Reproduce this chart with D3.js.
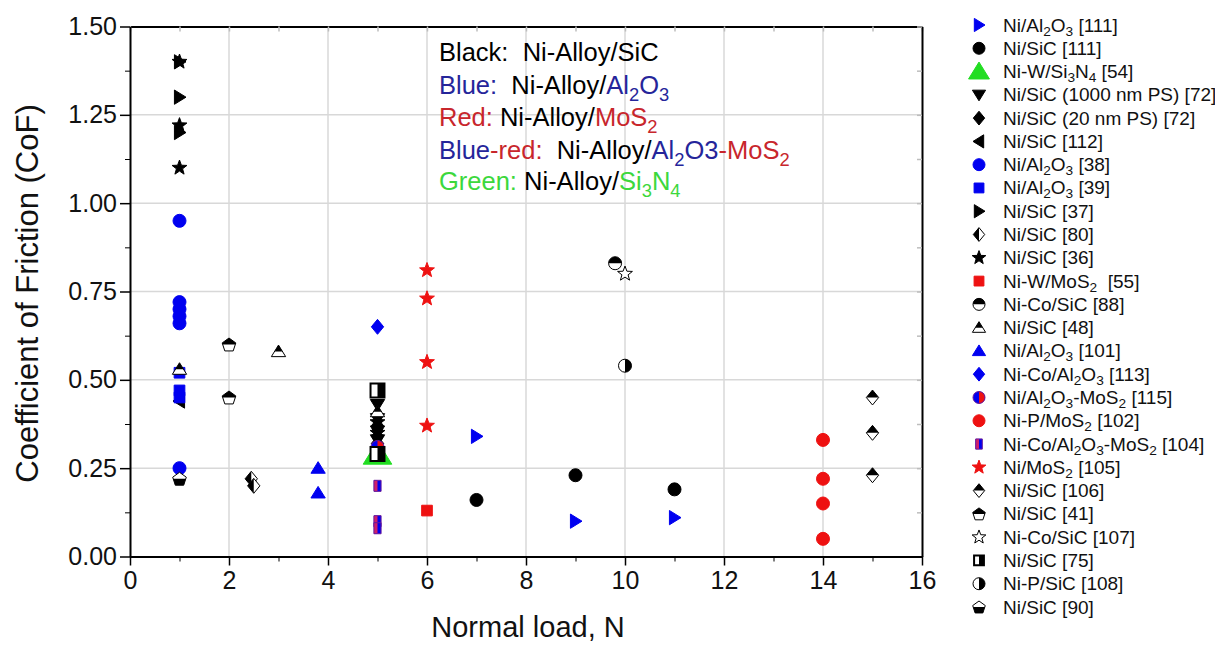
<!DOCTYPE html>
<html>
<head>
<meta charset="utf-8">
<script src="https://cdn.jsdelivr.net/npm/d3@7"></script>
<style>
  body { margin: 0; background: #fff; }
  text { font-family: "Liberation Sans", Arial, sans-serif; }
</style>
</head>
<body>
<script>
// Chart data: normal load (N) vs coefficient of friction, one array per source
var niAl2O3_111   = [[7, 0.34], [9, 0.10], [11, 0.11]];
var niSiC_111     = [[7, 0.16], [9, 0.23], [11, 0.19]];
var niWSi3N4_54   = [[5, 0.29]];
var niSiC_72_1000 = [[5, 0.43], [5, 0.39], [5, 0.355], [5, 0.33]];
var niSiC_72_20   = [[5, 0.40], [5, 0.37], [5, 0.34], [5, 0.32]];
var niSiC_112     = [[1, 0.44]];
var niAl2O3_38    = [[1, 0.95], [1, 0.72], [1, 0.70], [1, 0.68], [1, 0.66], [1, 0.25]];
var niAl2O3_39    = [[1, 0.52], [1, 0.47], [1, 0.45]];
var niSiC_37      = [[1, 1.40], [1, 1.30], [1, 1.20]];
var niSiC_80      = [[2.45, 0.22], [2.5, 0.20]];
var niSiC_36      = [[1, 1.40], [1, 1.22], [1, 1.10], [5, 0.38], [5, 0.35]];
var niWMoS2_55    = [[6, 0.13]];
var niCoSiC_88    = [[9.8, 0.83]];
var niSiC_48      = [[1, 0.53], [3, 0.58], [5, 0.41]];
var niAl2O3_101   = [[3.8, 0.25], [3.8, 0.18]];
var niCoAl2O3_113 = [[5, 0.65]];
var niAl2O3MoS2_115 = [[5, 0.31]];
var niPMoS2_102   = [[14, 0.33], [14, 0.22], [14, 0.15], [14, 0.05]];
var niCoAl2O3MoS2_104 = [[5, 0.20], [5, 0.10], [5, 0.08]];
var niMoS2_105    = [[6, 0.81], [6, 0.73], [6, 0.55], [6, 0.37]];
var niSiC_106     = [[15, 0.45], [15, 0.35], [15, 0.23]];
var niSiC_41      = [[2, 0.60], [2, 0.45]];
var niCoSiC_107   = [[10, 0.80]];
var niSiC_75      = [[5, 0.47], [5, 0.29]];
var niPSiC_108    = [[10, 0.54]];
var niSiC_90      = [[1, 0.22]];

// "_x" = subscript x
var seriesNames = [
  "Ni/Al_2O_3 [111]", "Ni/SiC [111]", "Ni-W/Si_3N_4 [54]", "Ni/SiC (1000 nm PS) [72]",
  "Ni/SiC (20 nm PS) [72]", "Ni/SiC [112]", "Ni/Al_2O_3 [38]", "Ni/Al_2O_3 [39]",
  "Ni/SiC [37]", "Ni/SiC [80]", "Ni/SiC [36]", "Ni-W/MoS_2  [55]", "Ni-Co/SiC [88]",
  "Ni/SiC [48]", "Ni/Al_2O_3 [101]", "Ni-Co/Al_2O_3 [113]", "Ni/Al_2O_3-MoS_2 [115]",
  "Ni-P/MoS_2 [102]", "Ni-Co/Al_2O_3-MoS_2 [104]", "Ni/MoS_2 [105]", "Ni/SiC [106]",
  "Ni/SiC [41]", "Ni-Co/SiC [107]", "Ni/SiC [75]", "Ni-P/SiC [108]", "Ni/SiC [90]"
];
var seriesData = [
  niAl2O3_111, niSiC_111, niWSi3N4_54, niSiC_72_1000, niSiC_72_20, niSiC_112,
  niAl2O3_38, niAl2O3_39, niSiC_37, niSiC_80, niSiC_36, niWMoS2_55, niCoSiC_88,
  niSiC_48, niAl2O3_101, niCoAl2O3_113, niAl2O3MoS2_115, niPMoS2_102,
  niCoAl2O3MoS2_104, niMoS2_105, niSiC_106, niSiC_41, niCoSiC_107, niSiC_75,
  niPSiC_108, niSiC_90
];

var xTicks = [0, 2, 4, 6, 8, 10, 12, 14, 16];
var xMinor = [1, 3, 5, 7, 9, 11, 13, 15];
var yTicks = [0, 0.25, 0.5, 0.75, 1.0, 1.25, 1.5];
var yMinor = [0.125, 0.375, 0.625, 0.875, 1.125, 1.375];

// colours
var BLUE = '#0000f0', RED = '#ee1111', GREEN = '#22dd22', BLACK = '#000';
var NAVY = '#25259a', DRED = '#c8262c', LGREEN = '#3cd83c';

// marker look per series (same order as the data)
var markers = [
  {shape: 'triRight', fill: BLUE},
  {shape: 'circle', fill: BLACK},
  {shape: 'triUp', fill: GREEN, size: 26, legendSize: 19},
  {shape: 'triDown', fill: BLACK},
  {shape: 'diamond', fill: BLACK},
  {shape: 'triLeft', fill: BLACK},
  {shape: 'circle', fill: BLUE},
  {shape: 'square', fill: BLUE},
  {shape: 'triRight', fill: BLACK},
  {shape: 'diamond', fill: '#fff', half: 'left', fill2: BLACK, stroke: BLACK},
  {shape: 'star', fill: BLACK},
  {shape: 'square', fill: RED},
  {shape: 'circle', fill: '#fff', half: 'top', fill2: BLACK, stroke: BLACK},
  {shape: 'triUp', fill: '#fff', half: 'top', fill2: BLACK, stroke: BLACK},
  {shape: 'triUp', fill: BLUE},
  {shape: 'diamond', fill: BLUE},
  {shape: 'circle', fill: BLUE, half: 'right', fill2: RED, stroke: '#6a1a9a'},
  {shape: 'circle', fill: RED},
  {shape: 'rect', fill: BLUE, half: 'left', fill2: '#d0206a', stroke: '#6a1a9a'},
  {shape: 'star', fill: RED},
  {shape: 'diamond', fill: '#fff', half: 'top', fill2: BLACK, stroke: BLACK},
  {shape: 'pentagon', fill: '#fff', half: 'top', fill2: BLACK, stroke: BLACK},
  {shape: 'star', fill: '#fff', stroke: BLACK},
  {shape: 'square', fill: '#fff', half: 'right', fill2: BLACK, stroke: BLACK, sw: 2, size: 17},
  {shape: 'circle', fill: '#fff', half: 'right', fill2: BLACK, stroke: BLACK},
  {shape: 'pentagon', fill: '#fff', half: 'bottom', fill2: BLACK, stroke: BLACK}
];

// colored note in the plot
var noteLines = [
  [["Black:  ", BLACK], ["Ni-Alloy/SiC", BLACK]],
  [["Blue:  ", NAVY], ["Ni-Alloy/", BLACK], ["Al_2O_3", NAVY]],
  [["Red: ", DRED], ["Ni-Alloy/", BLACK], ["MoS_2", DRED]],
  [["Blue", NAVY], ["-red:  ", DRED], ["Ni-Alloy/", BLACK], ["Al_2O3", NAVY], ["-MoS_2", DRED]],
  [["Green: ", LGREEN], ["Ni-Alloy/", BLACK], ["Si_3N_4", LGREEN]]
];

var width = 1215, height = 645;

var svg = d3.select('body').append('svg')
    .attr('width', width)
    .attr('height', height);

var x = d3.scaleLinear().domain([0, 16]).range([130, 922]);
var y = d3.scaleLinear().domain([0, 1.5]).range([556.5, 26.5]);

// clip rects for half filled markers
var defs = svg.append('defs');
[['top', -50, -50, 100, 50], ['bottom', -50, 0, 100, 50],
 ['left', -50, -50, 50, 100], ['right', 0, -50, 50, 100]].forEach(function(c) {
  defs.append('clipPath').attr('id', 'half-' + c[0])
    .append('rect').attr('x', c[1]).attr('y', c[2]).attr('width', c[3]).attr('height', c[4]);
});

function poly(pts) {
  return 'M' + pts.map(function(p) { return p[0].toFixed(2) + ',' + p[1].toFixed(2); }).join('L') + 'Z';
}
function rot(pts, a) {
  var c = Math.cos(a), s = Math.sin(a);
  return pts.map(function(p) { return [p[0] * c - p[1] * s, p[0] * s + p[1] * c]; });
}
function shapePath(shape, size) {
  var r = size / 2;
  var tri = [[0, -r * 1.0], [r * 1.1, r * 0.78], [-r * 1.1, r * 0.78]];
  switch (shape) {
    case 'circle': return 'M' + r + ',0A' + r + ',' + r + ' 0 1,1 ' + (-r) + ',0A' + r + ',' + r + ' 0 1,1 ' + r + ',0Z';
    case 'square': var q = r * 0.82; return poly([[-q, -q], [q, -q], [q, q], [-q, q]]);
    case 'rect': return poly([[-r * 0.55, -r * 0.85], [r * 0.55, -r * 0.85], [r * 0.55, r * 0.85], [-r * 0.55, r * 0.85]]);
    case 'triUp': return poly(tri);
    case 'triDown': return poly(rot(tri, Math.PI));
    case 'triRight': return poly(rot(tri, Math.PI / 2));
    case 'triLeft': return poly(rot(tri, -Math.PI / 2));
    case 'diamond': return poly([[0, -r * 1.15], [r * 0.95, 0], [0, r * 1.15], [-r * 0.95, 0]]);
    case 'pentagon':
      return poly(d3.range(5).map(function(i) {
        var a = -Math.PI / 2 + i * 2 * Math.PI / 5;
        return [Math.cos(a) * r * 1.1, Math.sin(a) * r * 1.1 + r * 0.1];
      }));
    case 'star':
      return poly(d3.range(10).map(function(i) {
        var a = -Math.PI / 2 + i * Math.PI / 5, rr = i % 2 ? r * 0.5 : r * 1.2;
        return [Math.cos(a) * rr, Math.sin(a) * rr];
      }));
  }
}

function drawMarker(g, m, size) {
  var d = shapePath(m.shape, size);
  g.append('path').attr('d', d).attr('fill', m.fill);
  if (m.half) {
    g.append('path').attr('d', d).attr('fill', m.fill2)
      .attr('clip-path', 'url(#half-' + m.half + ')');
  }
  g.append('path').attr('d', d).attr('fill', 'none')
    .attr('stroke', m.stroke || m.fill)
    .attr('stroke-width', m.sw || 1)
    .attr('stroke-linejoin', 'miter');
}

// text with subscripts
function richText(t, segments, shift) {
  var down = false;
  segments.forEach(function(seg) {
    seg[0].split(/(_.)/).filter(Boolean).forEach(function(p) {
      var sub = p[0] === '_';
      var ts = t.append('tspan').attr('fill', seg[1]).text(sub ? p.slice(1) : p);
      if (sub) {
        ts.attr('font-size', '72%');
        if (!down) { ts.attr('dy', shift); down = true; }
      } else if (down) {
        ts.attr('dy', -shift); down = false;
      }
    });
  });
}

// grid
var grid = svg.append('g').attr('class', 'grid')
    .attr('stroke', '#d8d8d8').attr('stroke-width', 1.5);
grid.selectAll('.gx').data(xTicks.slice(1, -1)).enter().append('line')
    .attr('x1', function(d) { return x(d); }).attr('x2', function(d) { return x(d); })
    .attr('y1', y(0)).attr('y2', y(1.5));
grid.selectAll('.gy').data(yTicks.slice(1, -1)).enter().append('line')
    .attr('y1', function(d) { return y(d); }).attr('y2', function(d) { return y(d); })
    .attr('x1', x(0)).attr('x2', x(16));

// top and right frame with small inward ticks
function frameAxis(axis, transform) {
  var g = svg.append('g').attr('transform', transform).call(axis);
  g.selectAll('path, line').attr('stroke', '#bdbdbd').attr('stroke-width', 1.5);
  g.selectAll('text').remove();
}
frameAxis(d3.axisTop(x).tickValues(xTicks.concat(xMinor)).tickSizeInner(-5).tickSizeOuter(0).tickFormat(''),
  'translate(0,' + y(1.5) + ')');
frameAxis(d3.axisRight(y).tickValues(yTicks.concat(yMinor)).tickSizeInner(-5).tickSizeOuter(0).tickFormat(''),
  'translate(' + x(16) + ',0)');

// bottom axis
var xAxis = svg.append('g').attr('transform', 'translate(0,' + y(0) + ')')
    .call(d3.axisBottom(x).tickValues(xTicks).tickSizeInner(9).tickSizeOuter(0).tickPadding(6)
      .tickFormat(d3.format('d')));
svg.append('g').attr('transform', 'translate(0,' + y(0) + ')')
    .call(d3.axisBottom(x).tickValues(xMinor).tickSizeInner(5).tickSizeOuter(0).tickFormat(''))
    .select('.domain').remove();

// left axis
var yAxis = svg.append('g').attr('transform', 'translate(' + x(0) + ',0)')
    .call(d3.axisLeft(y).tickValues(yTicks).tickSizeInner(10).tickSizeOuter(0).tickPadding(3)
      .tickFormat(d3.format('.2f')));
svg.append('g').attr('transform', 'translate(' + x(0) + ',0)')
    .call(d3.axisLeft(y).tickValues(yMinor).tickSizeInner(5).tickSizeOuter(0).tickFormat(''))
    .select('.domain').remove();

svg.selectAll('.domain').attr('stroke', '#000').attr('stroke-width', 2);
xAxis.selectAll('.tick line').attr('stroke-width', 1.5);
yAxis.selectAll('.tick line').attr('stroke-width', 1.5);
[xAxis, yAxis].forEach(function(a) {
  a.selectAll('text').attr('font-size', 25).attr('fill', '#111')
    .style('font-family', '"Liberation Sans", Arial, sans-serif');
});

// axis titles
svg.append('text')
    .attr('x', (x(0) + x(16)) / 2 + 2).attr('y', 637)
    .attr('text-anchor', 'middle').attr('font-size', 29).attr('fill', '#111')
    .text('Normal load, N');
svg.append('text')
    .attr('transform', 'translate(38,' + ((y(0) + y(1.5)) / 2 + 2) + ') rotate(-90)')
    .attr('text-anchor', 'middle').attr('font-size', 31).attr('fill', '#111')
    .text('Coefficient of Friction (CoF)');

// note
var noteY = [61, 94, 126, 159, 190];
noteLines.forEach(function(line, i) {
  var t = svg.append('text').attr('x', 439).attr('y', noteY[i])
      .attr('font-size', 25.5).attr('xml:space', 'preserve');
  richText(t, line, 7);
});

// points
seriesData.forEach(function(pts, i) {
  var m = markers[i];
  svg.append('g').attr('class', 'series')
    .selectAll('g').data(pts).enter().append('g')
      .attr('transform', function(d) { return 'translate(' + x(d[0]) + ',' + y(d[1]) + ')'; })
      .each(function() { drawMarker(d3.select(this), m, m.size || 13); });
});

// legend
var legend = svg.append('g').attr('class', 'legend');
seriesNames.forEach(function(name, i) {
  var m = markers[i];
  var ly = 25 + i * 23.28;
  var g = legend.append('g').attr('transform', 'translate(979,' + ly + ')');
  drawMarker(g, m, m.legendSize || 12);
  var t = legend.append('text').attr('x', 1003).attr('y', ly + 6.5)
      .attr('font-size', 19).attr('fill', '#111').attr('xml:space', 'preserve');
  richText(t, [[name, '#111']], 4);
});
</script>
</body>
</html>
